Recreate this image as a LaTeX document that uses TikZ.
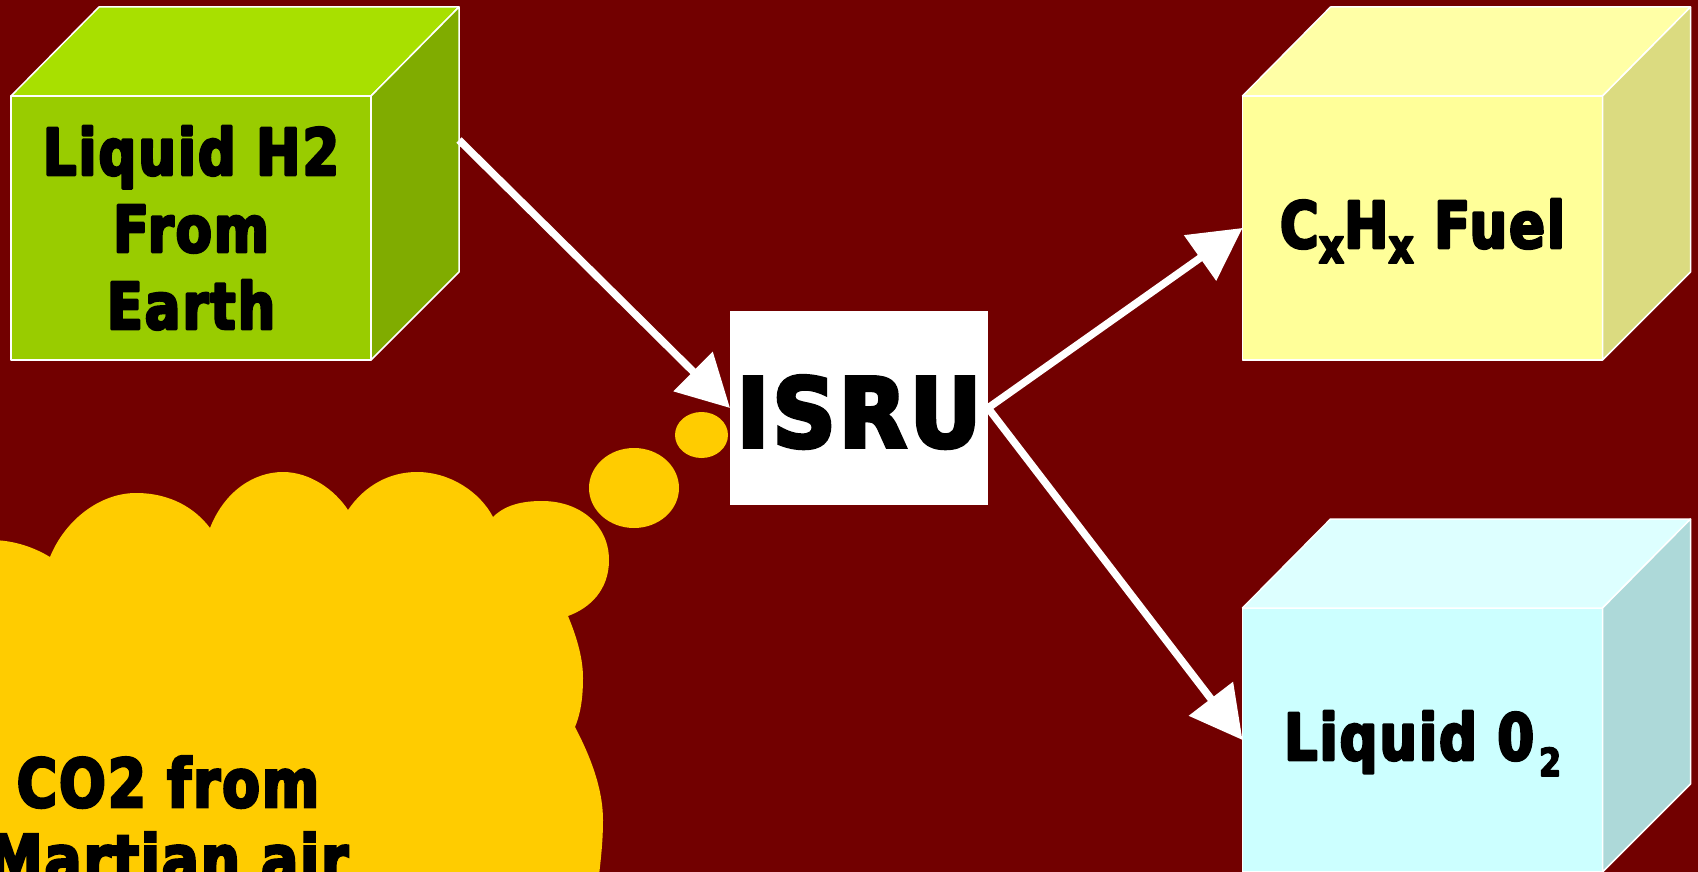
\documentclass[tikz,border=0pt]{standalone}
\usepackage{fontspec}
\usetikzlibrary{arrows.meta}
\newfontfamily\labelfont[FakeStretch=0.82,FakeBold=4,LetterSpace=3]{DejaVu Sans}
\newfontfamily\unitfont[FakeStretch=0.92,FakeBold=4,LetterSpace=3]{DejaVu Sans}

\definecolor{bgred}{HTML}{720000}
\definecolor{greenfront}{HTML}{99CC00}
\definecolor{greentop}{HTML}{A8E000}
\definecolor{greenside}{HTML}{80AC00}
\definecolor{yelfront}{HTML}{FFFF99}
\definecolor{yeltop}{HTML}{FFFFA6}
\definecolor{yelside}{HTML}{DBDB80}
\definecolor{cyanfront}{HTML}{CCFFFF}
\definecolor{cyantop}{HTML}{DDFFFF}
\definecolor{cyanside}{HTML}{ADD9D9}
\definecolor{cloudyellow}{HTML}{FFCC00}

\begin{document}
\begin{tikzpicture}[x=1pt,y=-1pt,
  face/.style={draw=white, line width=1.5pt, line join=round},
  front/.style={face, rectangle, minimum width=360pt, minimum height=264pt,
    inner sep=0pt, outer sep=0pt, align=center, text=black,
    font=\labelfont\bfseries\fontsize{64.5}{77}\selectfont},
  lbl/.style={font=\labelfont\bfseries\fontsize{64.5}{77}\selectfont,
    text=black, inner sep=0pt, align=center},
  flow/.style={draw=white, line width=7.5pt, -{Triangle[length=52pt,width=54pt]}},
  puff/.style={fill=cloudyellow}
]
\useasboundingbox (0,0) rectangle (1698,872);
\clip (0,0) rectangle (1698,872);
\fill[bgred] (0,0) rectangle (1698,872);

% thought cloud with two bubbles
\fill[puff] (-10,540) .. controls (15,540) and (35,548) .. (50,557)
  .. controls (65,520) and (100,493) .. (136,493)
  .. controls (170,493) and (195,508) .. (210,528)
  .. controls (225,490) and (255,472) .. (283,472)
  .. controls (310,472) and (335,490) .. (348,510)
  .. controls (365,485) and (390,472) .. (417,472)
  .. controls (450,472) and (480,492) .. (493,517)
  .. controls (505,505) and (522,501) .. (542,501)
  .. controls (580,501) and (609,525) .. (609,560)
  .. controls (609,590) and (590,608) .. (568,616)
  .. controls (578,640) and (583,660) .. (583,678)
  .. controls (583,700) and (580,715) .. (575,727)
  .. controls (595,765) and (603,795) .. (603,820)
  .. controls (603,845) and (600,865) .. (598,885)
  -- (-10,885) -- cycle;
\fill[puff] (634,488) ellipse [x radius=45, y radius=40];
\fill[puff] (701.5,435) ellipse [x radius=26.5, y radius=23];
\node[lbl, font=\labelfont\bfseries\fontsize{67}{76}\selectfont, anchor=base]
  (co2) at (168,883) {CO2 from\\Martian air};

% hydrogen cube
\node[front, fill=greenfront] (h2) at (191,228) {Liquid H2\\From\\Earth};
\filldraw[face, fill=greentop] (h2.north west) -- ++(88,-89) -- ++(360,0) -- (h2.north east) -- cycle;
\filldraw[face, fill=greenside] (h2.north east) -- ++(88,-89) -- ++(0,265) -- (h2.south east) -- cycle;

% fuel cube
\node[front, fill=yelfront, text height=40pt, text depth=0pt] (fuel) at (1422.5,228)
  {C\raisebox{-15pt}{\fontsize{48}{48}\selectfont x}H\raisebox{-15pt}{\fontsize{48}{48}\selectfont x} Fuel};
\filldraw[face, fill=yeltop] (fuel.north west) -- ++(88,-89) -- ++(360,0) -- (fuel.north east) -- cycle;
\filldraw[face, fill=yelside] (fuel.north east) -- ++(88,-89) -- ++(0,265) -- (fuel.south east) -- cycle;

% oxygen cube
\node[front, fill=cyanfront, text height=40pt, text depth=0pt] (oxy) at (1422.5,740)
  {Liquid 0\kern5pt\raisebox{-16pt}{\fontsize{38.5}{38.5}\selectfont 2}};
\filldraw[face, fill=cyantop] (oxy.north west) -- ++(88,-89) -- ++(360,0) -- (oxy.north east) -- cycle;
\filldraw[face, fill=cyanside] (oxy.north east) -- ++(88,-89) -- ++(0,265) -- (oxy.south east) -- cycle;

% processing unit
\node[fill=white, minimum width=258pt, minimum height=194pt, inner sep=0pt, outer sep=0pt,
  text height=78pt, text depth=0pt, text=black,
  font=\unitfont\bfseries\fontsize{96}{96}\selectfont] (isru) at (859,408) {ISRU};

% flows
\coordinate (h2out) at (459,140);
\draw[flow] (h2out) -- (isru.west);
\draw[flow] (isru.east) -- (fuel.west);
\draw[flow] (isru.east) -- (oxy.west);
\end{tikzpicture}
\end{document}
